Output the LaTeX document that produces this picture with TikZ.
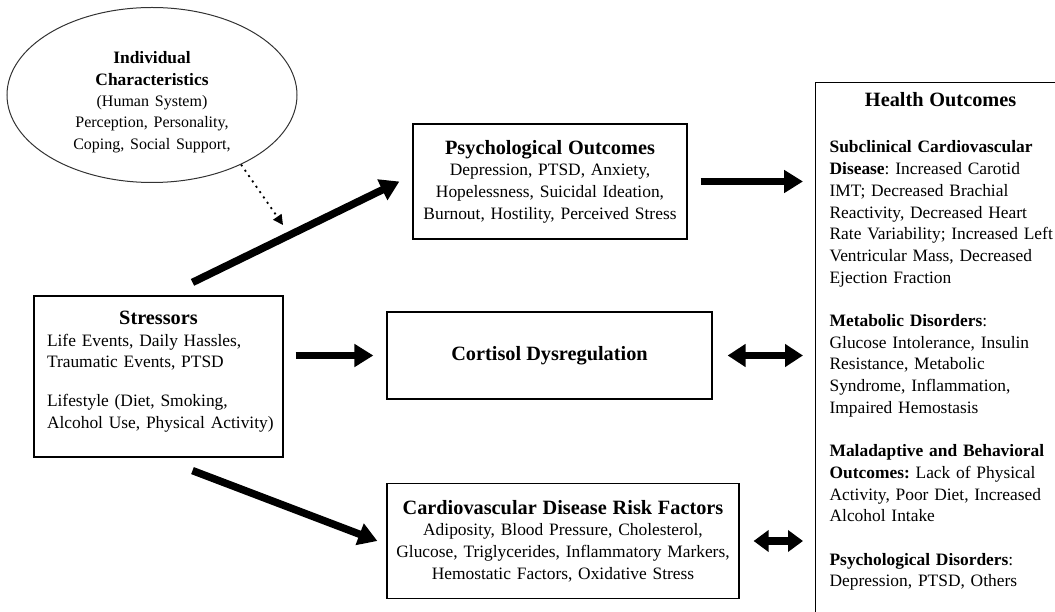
\documentclass[tikz,border=0pt]{standalone}
\usepackage{fontspec}
\setmainfont{Liberation Serif}
\usetikzlibrary{arrows.meta,shapes.geometric}
\newcommand{\hdfont}{\fontsize{20.3}{24}\selectfont\bfseries}
\newcommand{\bdfont}{\fontsize{17.4}{21.7}\selectfont}
\newcommand{\smfont}{\fontsize{16}{21.3}\selectfont}
\begin{document}
\frenchspacing
\begin{tikzpicture}[x=1pt,y=-1pt]
			\tikzstyle{box}=[draw=black, line width=1.2pt, inner sep=0pt, font=\bdfont]
			\tikzstyle{fat}=[line width=7.5pt, -{Triangle[length=19pt,width=22pt]}]
			\tikzstyle{fatboth}=[line width=7.5pt, {Triangle[length=18pt,width=22pt]}-{Triangle[length=18pt,width=22pt]}]
			\tikzstyle{slimboth}=[line width=7.5pt, {Triangle[length=15pt,width=21pt]}-{Triangle[length=15pt,width=21pt]}]
			\clip (0,0) rectangle (1055,612);
			\node [box, ellipse, line width=1pt, draw=black!80, minimum width=290pt, minimum height=175pt, text width=200pt, align=center] (indiv) at (152,95)
				{{\bfseries\rule{0pt}{26pt}Individual\\Characteristics\par}{\smfont (Human System)\\Perception, Personality,\\Coping, Social Support,\par}};
			\node [box, minimum width=249pt, minimum height=161pt, text width=223pt, align=left] (stress) at (158.5,376.5)
				{{\centering\hdfont Stressors\par}\mbox{Life Events, Daily Hassles,}\\\mbox{Traumatic Events, PTSD}\\[17pt]\mbox{Lifestyle (Diet, Smoking,}\\\mbox{Alcohol Use, Physical Activity)\rule[-14pt]{0pt}{1pt}}};
			\node [box, minimum width=274pt, minimum height=115pt, text width=262pt, align=center] (psych) at (550,181.5)
				{{\hdfont Psychological Outcomes\par}Depression, PTSD, Anxiety,\\Hopelessness, Suicidal Ideation,\\Burnout, Hostility, Perceived Stress};
			\node [box, minimum width=325pt, minimum height=87pt] (cort) at (549.5,355.5) {\hdfont Cortisol Dysregulation};
			\node [box, minimum width=352pt, minimum height=115pt, text width=342pt, align=center] (cvd) at (563,541)
				{{\hdfont Cardiovascular Disease Risk Factors\par}Adiposity, Blood Pressure, Cholesterol,\\Glucose, Triglycerides, Inflammatory Markers,\\Hemostatic Factors, Oxidative Stress};
			\node [box, anchor=north west, minimum width=250pt, minimum height=545pt] (health) at (815,82) {};
			\node [font=\bdfont, inner sep=0pt, anchor=north, text width=222pt, align=left] (htext) at ([yshift=-10pt]health.north)
				{{\centering\hdfont Health Outcomes\par}\vspace{25pt}%
				\mbox{\textbf{Subclinical Cardiovascular}}\\\mbox{\textbf{Disease}: Increased Carotid}\\\mbox{IMT; Decreased Brachial}\\\mbox{Reactivity, Decreased Heart}\\\mbox{Rate Variability; Increased Left}\\\mbox{Ventricular Mass, Decreased}\\\mbox{Ejection Fraction}\\[21.7pt]%
				\mbox{\textbf{Metabolic Disorders}:}\\\mbox{Glucose Intolerance, Insulin}\\\mbox{Resistance, Metabolic}\\\mbox{Syndrome, Inflammation,}\\\mbox{Impaired Hemostasis}\\[21.7pt]%
				\mbox{\textbf{Maladaptive and Behavioral}}\\\mbox{\textbf{Outcomes:} Lack of Physical}\\\mbox{Activity, Poor Diet, Increased}\\\mbox{Alcohol Intake}\\[21.7pt]%
				\mbox{\textbf{Psychological Disorders}:}\\\mbox{Depression, PTSD, Others}};
			\coordinate (hit) at (283,225);
			\draw [black, line width=1.8pt, dash pattern=on 2pt off 4.5pt, -{Triangle[length=10pt,width=10pt]}] (indiv.-38) -- (hit);
			\draw [fat] ([shift={(34pt,13pt)}]stress.north) -- ([xshift=-13pt]psych.west);
			\draw [fat] ([shift={(34pt,-13pt)}]stress.south) -- ([xshift=-9pt]cvd.west);
			\draw [fat, shorten <=12pt, shorten >=13pt] (stress.east |- cort.west) -- (cort.west);
			\draw [fat, shorten <=13pt, shorten >=12pt] (psych.east) -- (psych.east -| health.west);
			\draw [fatboth, shorten <=15pt, shorten >=12pt] (cort.east) -- (cort.east -| health.west);
			\draw [slimboth, shorten <=14pt, shorten >=12pt] (cvd.east) -- (cvd.east -| health.west);
\end{tikzpicture}
\end{document}
